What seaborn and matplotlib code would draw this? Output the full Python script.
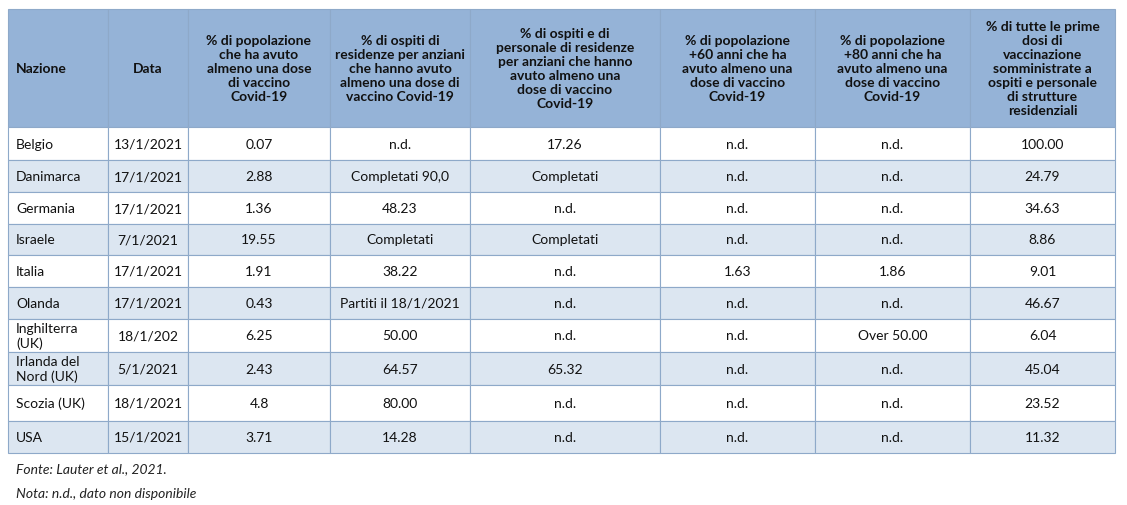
import matplotlib
matplotlib.use("Agg")
import matplotlib.pyplot as plt
import seaborn as sns
from matplotlib.patches import Rectangle

sns.set_theme(style="white")
plt.rcParams['font.family'] = ['Lato', 'DejaVu Sans']

headers = ["Nazione", "Data",
           "% di popolazione\nche ha avuto\nalmeno una dose\ndi vaccino\nCovid-19",
           "% di ospiti di\nresidenze per anziani\nche hanno avuto\nalmeno una dose di\nvaccino Covid-19",
           "% di ospiti e di\npersonale di residenze\nper anziani che hanno\navuto almeno una\ndose di vaccino\nCovid-19",
           "% di popolazione\n+60 anni che ha\navuto almeno una\ndose di vaccino\nCovid-19",
           "% di popolazione\n+80 anni che ha\navuto almeno una\ndose di vaccino\nCovid-19",
           "% di tutte le prime\ndosi di\nvaccinazione\nsomministrate a\nospiti e personale\ndi strutture\nresidenziali"]
nazioni = ["Belgio", "Danimarca", "Germania", "Israele", "Italia", "Olanda",
           "Inghilterra\n(UK)", "Irlanda del\nNord (UK)", "Scozia (UK)", "USA"]
date = ["13/1/2021", "17/1/2021", "17/1/2021", "7/1/2021", "17/1/2021", "17/1/2021",
        "18/1/202", "5/1/2021", "18/1/2021", "15/1/2021"]
pop = ["0.07", "2.88", "1.36", "19.55", "1.91", "0.43", "6.25", "2.43", "4.8", "3.71"]
ospiti = ["n.d.", "Completati 90,0", "48.23", "Completati", "38.22", "Partiti il 18/1/2021",
          "50.00", "64.57", "80.00", "14.28"]
ospiti_pers = ["17.26", "Completati", "n.d.", "Completati", "n.d.", "n.d.", "n.d.", "65.32", "n.d.", "n.d."]
pop60 = ["n.d.", "n.d.", "n.d.", "n.d.", "1.63", "n.d.", "n.d.", "n.d.", "n.d.", "n.d."]
pop80 = ["n.d.", "n.d.", "n.d.", "n.d.", "1.86", "n.d.", "Over 50.00", "n.d.", "n.d.", "n.d."]
prime = ["100.00", "24.79", "34.63", "8.86", "9.01", "46.67", "6.04", "45.04", "23.52", "11.32"]
columns = [nazioni, date, pop, ospiti, ospiti_pers, pop60, pop80, prime]

xb = [8, 108, 188, 330, 470, 660, 815, 970, 1115]
yb = [10, 128, 161, 193, 225, 256, 288, 320, 353, 386, 422, 454]

fig = plt.figure(figsize=(11.27, 5.06), dpi=100)
ax = fig.add_axes([0, 0, 1, 1])
ax.set_xlim(0, 1127); ax.set_ylim(506, 0); ax.axis("off")

header_c = "#95B3D7"; alt_c = "#DCE6F1"; edge = "#8EA9C9"
for r in range(len(yb) - 1):
    fc = header_c if r == 0 else ("white" if r % 2 == 1 else alt_c)
    for c in range(len(xb) - 1):
        ax.add_patch(Rectangle((xb[c], yb[r]), xb[c+1]-xb[c], yb[r+1]-yb[r],
                               facecolor=fc, edgecolor=edge, lw=0.8))
for c, h in enumerate(headers):
    yc = (yb[0] + yb[1]) / 2
    if c == 0:
        ax.text(16, yc, h, ha="left", va="center", fontsize=10, weight="bold", color="#111")
    else:
        ax.text((xb[c]+xb[c+1])/2, yc, h, ha="center", va="center", fontsize=10,
                weight="bold", color="#111", linespacing=1.2)
for c, col in enumerate(columns):
    for r, v in enumerate(col):
        yc = (yb[r+1] + yb[r+2]) / 2
        if c == 0:
            ax.text(16, yc, v, ha="left", va="center", fontsize=10, color="#111", linespacing=1.15)
        else:
            ax.text((xb[c]+xb[c+1])/2, yc, v, ha="center", va="center", fontsize=10, color="#111")
ax.text(16, 469, "Fonte: Lauter et al., 2021.", ha="left", va="center", fontsize=10, style="italic", color="#222")
ax.text(16, 494, "Nota: n.d., dato non disponibile", ha="left", va="center", fontsize=10, style="italic", color="#222")
fig.savefig("out.png", dpi=100)
